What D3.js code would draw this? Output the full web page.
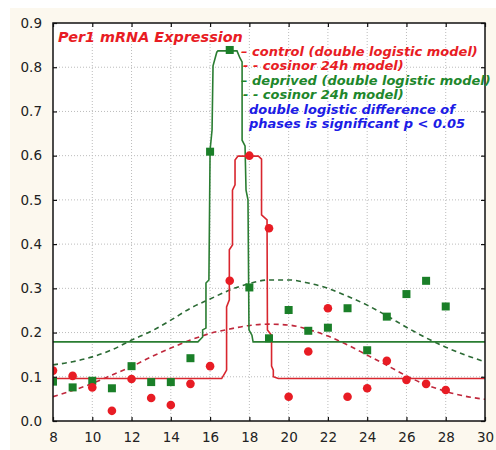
<!DOCTYPE html>
<html>
<head>
<meta charset="utf-8">
<script src="https://cdn.jsdelivr.net/npm/d3@7"></script>
<style>
  body { margin: 0; background: #fff; }
  svg { display: block; }
</style>
</head>
<body>
<svg width="496" height="450"></svg>
<script>
// hours of sampling
var hours = [8,9,10,11,12,13,14,15,16,17,18,19,20,21,22,23,24,25,26,27,28];
// measured Per1 mRNA, control (red circles) and deprived (green squares)
var controlObs  = [0.114,0.102,0.076,0.023,0.095,0.052,0.036,0.084,0.124,0.317,0.600,0.436,0.055,0.157,0.255,0.055,0.074,0.136,0.093,0.084,0.070];
var deprivedObs = [0.089,0.076,0.091,0.074,0.124,0.088,0.088,0.142,0.609,0.839,0.302,0.187,0.251,0.204,0.211,0.255,0.160,0.236,0.287,0.317,0.259];

// double logistic model curves (x, y)
var controlFitX  = [8,16.59,16.76,16.84,16.84,16.98,16.98,17.14,17.14,17.27,17.27,17.42,18.46,18.62,18.62,18.90,18.92,19.13,19.13,19.22,19.22,19.47,30];
var controlFitY  = [0.096,0.096,0.109,0.115,0.258,0.274,0.387,0.398,0.522,0.534,0.590,0.599,0.599,0.592,0.466,0.455,0.206,0.194,0.124,0.115,0.100,0.096,0.096];
var deprivedFitX = [8,15.38,15.62,15.62,15.79,15.79,15.94,16.00,16.10,16.15,16.34,16.40,17.37,17.52,17.63,17.63,17.78,17.83,17.93,17.98,18.13,18.19,18.34,30];
var deprivedFitY = [0.179,0.179,0.190,0.206,0.210,0.312,0.319,0.613,0.658,0.803,0.834,0.837,0.837,0.821,0.812,0.635,0.622,0.522,0.500,0.206,0.194,0.179,0.179,0.179];

// cosinor 24h model curves
var cosX = [8,9,10,11,12,13,14,15,16,17,18,19,20,21,22,23,24,25,26,27,28,29,30];
var controlCos  = [0.055,0.069,0.085,0.104,0.123,0.145,0.165,0.183,0.198,0.208,0.216,0.219,0.217,0.207,0.192,0.172,0.149,0.126,0.102,0.082,0.067,0.056,0.049];
var deprivedCos = [0.127,0.134,0.145,0.161,0.183,0.203,0.228,0.255,0.276,0.296,0.311,0.319,0.319,0.312,0.300,0.282,0.262,0.238,0.212,0.188,0.167,0.149,0.134];

var xTicks = [8,10,12,14,16,18,20,22,24,26,28,30];
var yTicks = [0,0.1,0.2,0.3,0.4,0.5,0.6,0.7,0.8,0.9];

var legendLines = [
  {text: "\u2013 control (double logistic model)", color: "#e81c24", dx: 241},
  {text: "- - cosinor 24h model)", color: "#e81c24", dx: 243},
  {text: "\u2013 deprived (double logistic model)", color: "#1e872c", dx: 241},
  {text: "- - cosinor 24h model)", color: "#1e872c", dx: 243},
  {text: "double logistic difference of", color: "#1c1ce6", dx: 249},
  {text: "phases is significant p < 0.05", color: "#1c1ce6", dx: 249}
];

function drawChart() {
  var red = "#e81c24", green = "#1a7f28";
  var svg = d3.select("svg");
  var pL = 53, pR = 485, pT = 23, pB = 421;

  var x = d3.scaleLinear().domain([8,30]).range([pL,pR]);
  var y = d3.scaleLinear().domain([0,0.9]).range([pB,pT]);

  svg.append("rect").attr("x",10).attr("y",8).attr("width",486).attr("height",442).style("fill","#fcf8ee");
  svg.append("rect").attr("x",pL).attr("y",pT).attr("width",pR-pL).attr("height",pB-pT).style("fill","#fff");

  svg.append("clipPath").attr("id","plotClip")
    .append("rect").attr("x",pL).attr("y",pT).attr("width",pR-pL).attr("height",pB-pT);

  // dotted grid
  var grid = svg.append("g").attr("class","grid");
  grid.selectAll("line.vx").data(xTicks.slice(1,-1)).enter().append("line")
    .attr("x1",function(d){return x(d);}).attr("x2",function(d){return x(d);})
    .attr("y1",pT).attr("y2",pB)
    .style("stroke","#bcbcbc").style("stroke-dasharray","1,2");
  grid.selectAll("line.hy").data(yTicks.slice(1,-1)).enter().append("line")
    .attr("y1",function(d){return y(d);}).attr("y2",function(d){return y(d);})
    .attr("x1",pL).attr("x2",pR)
    .style("stroke","#bcbcbc").style("stroke-dasharray","1,2");

  var plot = svg.append("g").attr("clip-path","url(#plotClip)");

  function zipLine(xs, ys) { return xs.map(function(v,i){ return [v, ys[i]]; }); }
  var line = d3.line().x(function(d){return x(d[0]);}).y(function(d){return y(d[1]);});
  var smooth = d3.line().curve(d3.curveMonotoneX).x(function(d){return x(d[0]);}).y(function(d){return y(d[1]);});

  plot.append("path").datum(zipLine(cosX, deprivedCos)).attr("d",smooth)
    .style("fill","none").style("stroke","#2b6a34").style("stroke-width",1.6).style("stroke-dasharray","5,4");
  plot.append("path").datum(zipLine(cosX, controlCos)).attr("d",smooth)
    .style("fill","none").style("stroke","#c0283c").style("stroke-width",1.6).style("stroke-dasharray","5,4");
  plot.append("path").datum(zipLine(deprivedFitX, deprivedFitY)).attr("d",line)
    .style("fill","none").style("stroke","#2a7d32").style("stroke-width",1.6);
  plot.append("path").datum(zipLine(controlFitX, controlFitY)).attr("d",line)
    .style("fill","none").style("stroke","#d8262e").style("stroke-width",1.6);

  plot.selectAll("rect.dep").data(hours).enter().append("rect")
    .attr("class","dep")
    .attr("x",function(d){return x(d)-4;})
    .attr("y",function(d,i){return y(deprivedObs[i])-4;})
    .attr("width",8).attr("height",8)
    .style("fill",green);
  plot.selectAll("circle.ctl").data(hours).enter().append("circle")
    .attr("class","ctl")
    .attr("cx",function(d){return x(d);})
    .attr("cy",function(d,i){return y(controlObs[i]);})
    .attr("r",4.3)
    .style("fill",red);

  // frame + inner ticks
  svg.append("rect").attr("x",pL).attr("y",pT).attr("width",pR-pL).attr("height",pB-pT)
    .style("fill","none").style("stroke","#111").style("stroke-width",1.5);

  svg.append("g").attr("transform","translate(0,"+pB+")")
    .call(d3.axisBottom(x).tickValues(xTicks).tickSize(-4).tickPadding(11).tickFormat(d3.format("d")));
  svg.append("g").attr("transform","translate(0,"+pT+")")
    .call(d3.axisTop(x).tickValues(xTicks).tickSize(-4).tickFormat(""));
  svg.append("g").attr("transform","translate("+pL+",0)")
    .call(d3.axisLeft(y).tickValues(yTicks).tickSize(-4).tickPadding(11).tickFormat(d3.format(".1f")));
  svg.append("g").attr("transform","translate("+pR+",0)")
    .call(d3.axisRight(y).tickValues(yTicks).tickSize(-4).tickFormat(""));

  svg.selectAll(".domain").remove();
  svg.selectAll(".tick line").style("stroke","#111").style("stroke-width",1.2);
  svg.selectAll(".tick text").style("font-family","DejaVu Sans").style("font-size","13.5px").style("fill","#222");

  // annotation
  svg.append("text").attr("x",58).attr("y",42)
    .style("font-family","DejaVu Sans").style("font-weight","bold").style("font-style","italic")
    .style("font-size","14.4px").style("fill",red)
    .text("Per1 mRNA Expression");

  svg.selectAll("text.leg").data(legendLines).enter().append("text")
    .attr("class","leg")
    .attr("x",function(d){return d.dx;})
    .attr("y",function(d,i){return 56 + i*14.4;})
    .style("font-family","DejaVu Sans").style("font-weight","bold").style("font-style","italic")
    .style("font-size","13px")
    .style("fill",function(d){return d.color;})
    .text(function(d){return d.text;});
}
drawChart();
</script>
</body>
</html>
